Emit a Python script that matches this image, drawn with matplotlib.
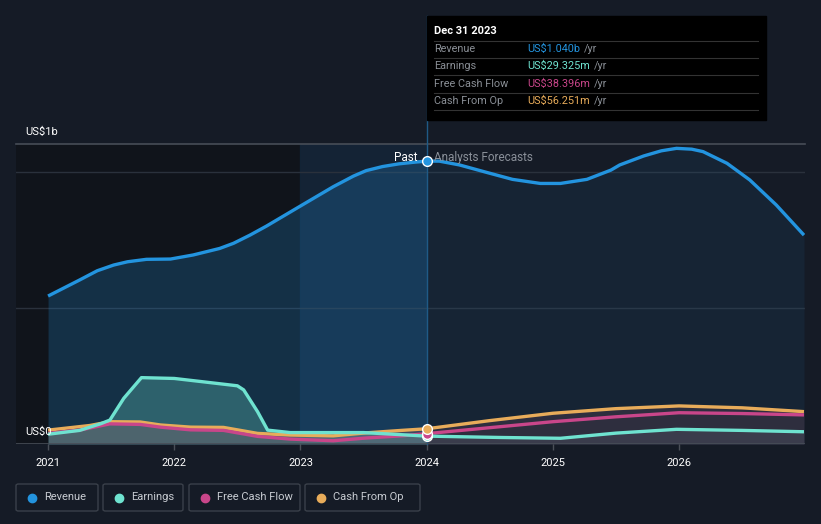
import matplotlib.pyplot as plt
from matplotlib.patches import FancyBboxPatch, Rectangle
from matplotlib.lines import Line2D

# values (US$ billions)
rev_x = [2021.0, 2021.25, 2021.39, 2021.52, 2021.63, 2021.78, 2021.97, 2022.15, 2022.36,
         2022.47, 2022.6, 2022.73, 2023.0, 2023.26, 2023.42, 2023.52, 2023.65, 2023.78,
         2023.9, 2024.0]
rev_y = [0.544, 0.603, 0.637, 0.658, 0.670, 0.679, 0.680, 0.695, 0.719,
         0.738, 0.768, 0.801, 0.875, 0.946, 0.985, 1.005, 1.020, 1.030,
         1.036, 1.040]
rev_fx = [2024.0, 2024.1, 2024.26, 2024.48, 2024.68, 2024.9, 2025.06, 2025.27, 2025.46,
          2025.53, 2025.72, 2025.86, 2025.98, 2026.1, 2026.19, 2026.38, 2026.56, 2026.77,
          2026.99]
rev_fy = [1.040, 1.040, 1.026, 0.998, 0.973, 0.958, 0.958, 0.973, 1.007,
          1.026, 1.059, 1.078, 1.087, 1.084, 1.075, 1.032, 0.971, 0.879,
          0.768]

earn_x = [2021.0, 2021.25, 2021.42, 2021.49, 2021.6, 2021.74, 2022.0, 2022.26, 2022.5,
          2022.55, 2022.66, 2022.74, 2022.92, 2023.5, 2024.0]
earn_y = [0.036, 0.050, 0.075, 0.088, 0.168, 0.244, 0.241, 0.227, 0.214,
          0.199, 0.119, 0.051, 0.042, 0.042, 0.029]
earn_fx = [2024.0, 2024.58, 2025.06, 2025.5, 2025.98, 2026.5, 2026.99]
earn_fy = [0.029, 0.024, 0.021, 0.040, 0.054, 0.050, 0.045]

fcf_x = [2021.0, 2021.25, 2021.49, 2021.73, 2021.89, 2022.13, 2022.39, 2022.66, 2022.92,
         2023.26, 2023.52, 2023.8, 2024.0]
fcf_y = [0.039, 0.051, 0.074, 0.072, 0.062, 0.052, 0.050, 0.028, 0.018,
         0.012, 0.022, 0.030, 0.038]
fcf_fx = [2024.0, 2024.5, 2025.0, 2025.5, 2026.0, 2026.5, 2026.99]
fcf_fy = [0.038, 0.060, 0.082, 0.100, 0.115, 0.112, 0.107]

cfo_x = [2021.0, 2021.33, 2021.49, 2021.73, 2021.89, 2022.13, 2022.39, 2022.66, 2022.92,
         2023.26, 2023.52, 2023.8, 2024.0]
cfo_y = [0.051, 0.068, 0.082, 0.081, 0.070, 0.062, 0.061, 0.039, 0.033,
         0.030, 0.041, 0.050, 0.056]
cfo_fx = [2024.0, 2024.5, 2025.0, 2025.5, 2026.0, 2026.5, 2026.99]
cfo_fy = [0.056, 0.086, 0.113, 0.130, 0.140, 0.133, 0.119]

years = [2021, 2022, 2023, 2024, 2025, 2026]

legend_names = ['Revenue', 'Earnings', 'Free Cash Flow', 'Cash From Op']
tip_values = ['US$1.040b', 'US$29.325m', 'US$38.396m', 'US$56.251m']

BG = '#151b26'
C_REV = '#2394df'
C_EARN = '#6fe3d0'
C_FCF = '#c9468a'
C_CFO = '#e8ac5a'
colors = [C_REV, C_EARN, C_FCF, C_CFO]

plt.rcParams['font.family'] = ['Roboto', 'DejaVu Sans']

W, H = 821, 524
fig = plt.figure(figsize=(W / 100, H / 100), dpi=100, facecolor=BG)
ax = fig.add_axes([16 / W, 1 - 444 / H, 789 / W, 300 / H])
ax.set_facecolor(BG)
ax.set_xlim(2020.746, 2026.998)
ax.set_ylim(0, 1.103)

# background regions
ax.axvspan(2020.746, 2023.0, color='#10141b', zorder=0)
ax.axvspan(2023.0, 2024.0, color='#142a40', alpha=0.6, zorder=0)

# gridlines
for g in [0.5, 1.0]:
    ax.axhline(g, color='#2a313c', lw=1, zorder=1)
ax.axhline(1.103, color='#474d57', lw=1.2, zorder=1, clip_on=False)
ax.axhline(0, color='#474d57', lw=1.2, zorder=6)

# fills
ax.fill_between(rev_x, rev_y, color=C_REV, alpha=0.22, lw=0, zorder=2)
ax.fill_between(rev_fx, rev_fy, color=C_REV, alpha=0.08, lw=0, zorder=2)
ax.fill_between(earn_x, earn_y, color=C_EARN, alpha=0.28, lw=0, zorder=2)
ax.fill_between(cfo_x, cfo_y, color='#b07070', alpha=0.25, lw=0, zorder=2)
ax.fill_between(cfo_fx, cfo_fy, color='#a06070', alpha=0.18, lw=0, zorder=2)
ax.fill_between(earn_fx, earn_fy, color='#8090a0', alpha=0.15, lw=0, zorder=2)

# lines
kw = dict(lw=2.4, solid_joinstyle='round', solid_capstyle='butt')
ax.plot(rev_x + rev_fx[1:], rev_y + rev_fy[1:], color=C_REV, zorder=5, **kw)
ax.plot(cfo_x + cfo_fx[1:], cfo_y + cfo_fy[1:], color=C_CFO, zorder=4, **kw)
ax.plot(fcf_x + fcf_fx[1:], fcf_y + fcf_fy[1:], color=C_FCF, zorder=4, **kw)
ax.plot(earn_x + earn_fx[1:], earn_y + earn_fy[1:], color=C_EARN, zorder=4, **kw)

# tooltip line and markers
ax.axvline(2024.0, ymin=0, ymax=(444 - 16) / 300, color='#1f5a86', lw=1, zorder=3,
           clip_on=False)
for yv, c in [(earn_y[-1], C_EARN), (fcf_y[-1], C_FCF), (cfo_y[-1], C_CFO), (rev_y[-1], C_REV)]:
    ax.plot([2024.0], [yv], 'o', ms=7, color=c, mec='white', mew=1, zorder=7)

ax.text(2023.93, 1.055, 'Past', color='white', fontsize=8.5, ha='right', va='center', zorder=8)
ax.text(2024.06, 1.055, 'Analysts Forecasts', color='#8a9099', fontsize=8.5, ha='left',
        va='center', zorder=8)

# axes styling
for s in ax.spines.values():
    s.set_visible(False)
ax.set_yticks([])
ax.set_xticks(years)
ax.set_xticklabels([str(y) for y in years])
ax.tick_params(axis='x', colors='#4a4f58', labelcolor='white', labelsize=8, length=4,
               width=1, pad=6)

fig.text(25 / W, 1 - 132 / H, 'US$1b', color='white', fontsize=8, va='center')
fig.text(25 / W, 1 - 432 / H, 'US$0', color='white', fontsize=8, va='center')

# tooltip
fig.patches.append(Rectangle((427 / W, 1 - 120 / H), 339 / W, 104 / H,
                             transform=fig.transFigure, color='black', zorder=10))
fig.text(434 / W, 1 - 31 / H, 'Dec 31 2023', color='white', fontsize=8, fontweight='bold',
         va='center', zorder=11)
row_y = [49, 66, 84, 101]
sep_y = [41, 58, 75, 93, 110]
for sy in sep_y:
    fig.lines.append(Line2D([434 / W, 758 / W], [1 - sy / H, 1 - sy / H], transform=fig.transFigure,
                            color='#333333', lw=0.8, zorder=11))
for name, val, c, ry in zip(legend_names, tip_values, colors, row_y):
    fig.text(434 / W, 1 - ry / H, name, color='#8a8f96', fontsize=7.8, va='center', zorder=11)
    t = fig.text(527 / W, 1 - ry / H, val, color=c, fontsize=7.8, va='center', zorder=11)
    fig.canvas.draw()
    bb = t.get_window_extent()
    fig.text(bb.x1 / W + 4 / W, 1 - ry / H, '/yr', color='#8a8f96', fontsize=7.8, va='center',
             zorder=11)

# legend boxes
boxes = [(16, 98), (103, 183), (189, 300), (305, 420)]
for (x0, x1), name, c in zip(boxes, legend_names, colors):
    fig.patches.append(FancyBboxPatch((x0 / W, 1 - 511 / H), (x1 - x0) / W, 27 / H,
                                      boxstyle='round,pad=0,rounding_size=0.003',
                                      transform=fig.transFigure, fc='none', ec='#3a404a', lw=1))
    fig.lines.append(Line2D([(x0 + 16) / W], [1 - 497.5 / H], marker='o', ms=6, color=c,
                            transform=fig.transFigure))
    fig.text((x0 + 28) / W, 1 - 497.5 / H, name, color='#c8ccd2', fontsize=8, va='center')

fig.savefig('out.png', dpi=100, facecolor=BG)
